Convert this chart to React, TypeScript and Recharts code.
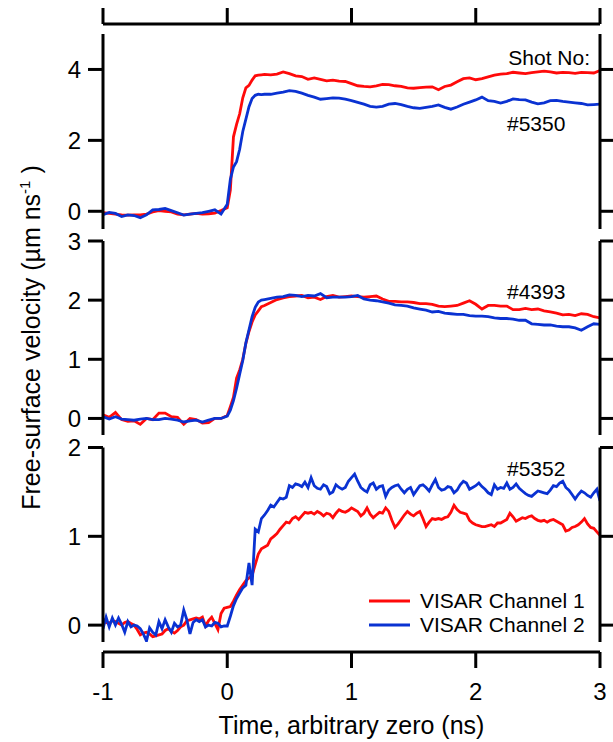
import { LineChart, Line, XAxis, YAxis, Legend } from "recharts"

const W = 613
const H = 742
const RED = "#ff0a0a"
const BLUE = "#0a32d2"
const FONT = '"Liberation Sans", Arial, sans-serif'

// time base for the two upper shots (ns), denser through the shock rise
const TIME_AB = [
  -1, -0.95, -0.9, -0.85, -0.8, -0.75, -0.7, -0.65, -0.6, -0.55,
  -0.5, -0.45, -0.4, -0.35, -0.3, -0.25, -0.2, -0.15, -0.1, -0.05,
  0, 0.025, 0.05, 0.075, 0.1, 0.125, 0.15, 0.175, 0.2, 0.225,
  0.25, 0.275, 0.3, 0.35, 0.4, 0.45, 0.5, 0.55, 0.6, 0.65,
  0.7, 0.75, 0.8, 0.85, 0.9, 0.95, 1, 1.05, 1.1, 1.15,
  1.2, 1.25, 1.3, 1.35, 1.4, 1.45, 1.5, 1.55, 1.6, 1.65,
  1.7, 1.75, 1.8, 1.85, 1.9, 1.95, 2, 2.05, 2.1, 2.15,
  2.2, 2.25, 2.3, 2.35, 2.4, 2.45, 2.5, 2.55, 2.6, 2.65,
  2.7, 2.75, 2.8, 2.85, 2.9, 2.95, 3,
]

// shot #5350
const S5350_CH1 = [
  -0.04, -0.06, -0.08, -0.1, -0.11, -0.1, -0.1, -0.08, -0.02, 0.02,
  0.0, -0.02, -0.08, -0.1, -0.08, -0.06, -0.08, -0.07, -0.05, 0.02,
  0.1, 0.6, 2.1, 2.45, 2.75, 3.2, 3.48, 3.55, 3.7, 3.82,
  3.84, 3.85, 3.86, 3.85, 3.87, 3.93, 3.88, 3.82, 3.8, 3.72,
  3.76, 3.72, 3.68, 3.7, 3.67, 3.66, 3.6, 3.54, 3.52, 3.51,
  3.54, 3.58, 3.57, 3.54, 3.52, 3.48, 3.47, 3.49, 3.5, 3.51,
  3.43, 3.52, 3.56, 3.65, 3.74, 3.76, 3.71, 3.74, 3.79, 3.84,
  3.87, 3.88, 3.92, 3.9, 3.88, 3.91, 3.93, 3.95, 3.93, 3.9,
  3.92, 3.91, 3.89, 3.92, 3.91, 3.9, 3.97,
]
const S5350_CH2 = [
  -0.1, -0.03, -0.06, -0.15, -0.1, -0.12, -0.18, -0.1, 0.04, 0.05,
  0.08, 0.02, -0.04, -0.11, -0.08, -0.06, -0.04, 0.0, 0.04, -0.08,
  0.2, 0.9, 1.25, 1.4, 1.75, 2.25, 2.6, 2.95, 3.18, 3.27,
  3.3, 3.29, 3.3, 3.3, 3.33, 3.36, 3.4, 3.38, 3.33, 3.27,
  3.22, 3.16, 3.18, 3.2, 3.19, 3.16, 3.12, 3.07, 3.02, 2.96,
  2.94, 2.96, 3.02, 3.04, 3.01, 2.96, 2.92, 2.9, 2.93, 2.96,
  3.0, 2.93, 2.88, 2.94, 3.02, 3.08, 3.14, 3.22, 3.12, 3.1,
  3.05, 3.1, 3.17, 3.15, 3.14, 3.08, 3.03, 3.06, 3.12, 3.13,
  3.1, 3.08, 3.06, 3.04, 3.0, 3.01, 3.02,
]

// shot #4393
const S4393_CH1 = [
  0.06, 0.02, 0.1, -0.02, -0.05, -0.04, -0.1, 0.0, -0.02, 0.09,
  0.09, 0.03, 0.02, -0.1, 0.0, -0.02, -0.08, -0.07, 0.0, 0.0,
  0.05, 0.2, 0.36, 0.68, 0.82, 1.0, 1.27, 1.47, 1.63, 1.75,
  1.82, 1.89, 1.91, 1.96, 2.01, 2.04, 2.06, 2.07, 2.08, 2.04,
  2.05, 2.01, 2.06, 2.08, 2.05, 2.06, 2.07, 2.06, 2.05, 2.06,
  2.07, 2.02, 1.98, 1.98, 1.97, 1.97, 1.96, 1.94, 1.94, 1.93,
  1.9, 1.89, 1.9, 1.91, 1.95, 1.99, 1.93, 1.85, 1.91, 1.91,
  1.9, 1.9, 1.84, 1.84, 1.86, 1.84, 1.85, 1.82, 1.8, 1.78,
  1.75, 1.76, 1.74, 1.77, 1.76, 1.72, 1.7,
]
const S4393_CH2 = [
  0.03, -0.01, 0.03, -0.01, -0.02, -0.03, -0.01, 0.0, -0.02, -0.02,
  0.0, -0.01, -0.03, -0.06, -0.04, -0.03, -0.06, -0.03, 0.0, 0.0,
  0.04, 0.14, 0.3, 0.51, 0.75, 0.98, 1.28, 1.5, 1.72, 1.88,
  1.97, 2.0, 2.01, 2.03, 2.05, 2.06, 2.09, 2.08, 2.06, 2.08,
  2.07, 2.11, 2.04, 2.05, 2.05, 2.05, 2.06, 2.08, 2.02, 2.0,
  1.99, 1.97, 1.95, 1.92, 1.91, 1.9, 1.87, 1.85, 1.83, 1.8,
  1.81, 1.78, 1.77, 1.76, 1.76, 1.74, 1.73, 1.73, 1.72, 1.7,
  1.69, 1.69, 1.68, 1.66, 1.66, 1.6, 1.59, 1.58, 1.58, 1.56,
  1.55, 1.55, 1.53, 1.49, 1.55, 1.6, 1.59,
]

// shot #5352 is noisier, read on a finer 25 ps grid
const TIME_C = [
  -1, -0.975, -0.95, -0.925, -0.9, -0.875, -0.85, -0.825, -0.8, -0.775,
  -0.75, -0.725, -0.7, -0.675, -0.65, -0.625, -0.6, -0.575, -0.55, -0.525,
  -0.5, -0.475, -0.45, -0.425, -0.4, -0.375, -0.35, -0.325, -0.3, -0.275,
  -0.25, -0.225, -0.2, -0.175, -0.15, -0.125, -0.1, -0.075, -0.05, -0.025,
  0, 0.025, 0.05, 0.075, 0.1, 0.125, 0.15, 0.175, 0.2, 0.225,
  0.25, 0.275, 0.3, 0.325, 0.35, 0.375, 0.4, 0.425, 0.45, 0.475,
  0.5, 0.525, 0.55, 0.575, 0.6, 0.625, 0.65, 0.675, 0.7, 0.725,
  0.75, 0.775, 0.8, 0.825, 0.85, 0.875, 0.9, 0.925, 0.95, 0.975,
  1, 1.025, 1.05, 1.075, 1.1, 1.125, 1.15, 1.175, 1.2, 1.225,
  1.25, 1.275, 1.3, 1.325, 1.35, 1.375, 1.4, 1.425, 1.45, 1.475,
  1.5, 1.525, 1.55, 1.575, 1.6, 1.625, 1.65, 1.675, 1.7, 1.725,
  1.75, 1.775, 1.8, 1.825, 1.85, 1.875, 1.9, 1.925, 1.95, 1.975,
  2, 2.025, 2.05, 2.075, 2.1, 2.125, 2.15, 2.175, 2.2, 2.225,
  2.25, 2.275, 2.3, 2.325, 2.35, 2.375, 2.4, 2.425, 2.45, 2.475,
  2.5, 2.525, 2.55, 2.575, 2.6, 2.625, 2.65, 2.675, 2.7, 2.725,
  2.75, 2.775, 2.8, 2.825, 2.85, 2.875, 2.9, 2.925, 2.95, 2.975,
  3,
]
const S5352_CH1 = [
  0.07, 0.03, 0.02, 0.05, 0.04, 0.02, 0.0, 0.03, 0.04, 0.02,
  0.0, -0.05, -0.11, -0.09, -0.08, -0.1, -0.13, -0.12, -0.11, -0.1,
  -0.06, -0.04, -0.07, -0.09, -0.06, -0.02, 0.0, 0.05, 0.06, 0.07,
  0.08, 0.07, 0.09, -0.01, 0.05, 0.09, 0.02, -0.05, 0.13, 0.19,
  0.2, 0.21, 0.27, 0.34, 0.4, 0.45, 0.5, 0.53, 0.56, 0.68,
  0.8, 0.86, 0.88, 0.9, 0.97, 1.0, 1.03, 1.08, 1.12, 1.16,
  1.15, 1.2, 1.22, 1.19, 1.23, 1.27, 1.26, 1.27, 1.25, 1.28,
  1.26, 1.23, 1.26, 1.25, 1.21, 1.26, 1.3, 1.28, 1.27, 1.29,
  1.32, 1.3, 1.28, 1.23, 1.26, 1.32, 1.25, 1.21, 1.24, 1.27,
  1.26, 1.32, 1.28, 1.18, 1.1, 1.14, 1.19, 1.24, 1.28, 1.25,
  1.23, 1.26, 1.28, 1.2, 1.11, 1.16, 1.2, 1.19, 1.2, 1.19,
  1.21, 1.22, 1.27, 1.35, 1.3, 1.27, 1.26, 1.25, 1.18, 1.15,
  1.13, 1.12, 1.11, 1.11, 1.12, 1.13, 1.11, 1.15, 1.15, 1.17,
  1.19, 1.26, 1.22, 1.17, 1.19, 1.21, 1.2, 1.22, 1.23, 1.2,
  1.18, 1.17, 1.18, 1.16, 1.18, 1.19, 1.17, 1.15, 1.13, 1.06,
  1.07, 1.1, 1.11, 1.13, 1.16, 1.2, 1.14, 1.1, 1.09, 1.05,
  1.01,
]
const S5352_CH2 = [
  -0.04, 0.09, -0.02, 0.08, 0.0, 0.08, 0.01, -0.08, 0.04, -0.02,
  0.0, -0.01, -0.04, -0.1, -0.18, -0.03, -0.08, -0.11, 0.04, -0.04,
  0.06, -0.02, -0.08, 0.02, -0.02, 0.0, 0.17, 0.06, -0.1, 0.03,
  0.06, 0.04, 0.06, -0.02, 0.0, -0.01, 0.03, 0.02, -0.02, -0.01,
  -0.01, 0.1, 0.22, 0.3, 0.36, 0.42, 0.45, 0.7, 0.45, 1.08,
  1.05, 1.2, 1.24, 1.29, 1.35, 1.33, 1.38, 1.43, 1.42, 1.44,
  1.57, 1.55, 1.59, 1.58, 1.56, 1.61, 1.55, 1.66, 1.57, 1.54,
  1.53, 1.58, 1.56, 1.48, 1.5, 1.58, 1.55, 1.53, 1.55, 1.62,
  1.66, 1.7, 1.62, 1.55, 1.52, 1.5, 1.58, 1.6, 1.53, 1.56,
  1.57, 1.45, 1.52, 1.55, 1.57, 1.58, 1.53, 1.49, 1.53, 1.55,
  1.47, 1.52, 1.57, 1.58, 1.55, 1.51, 1.58, 1.64, 1.55, 1.52,
  1.53, 1.56, 1.55, 1.49, 1.52, 1.58, 1.62, 1.6, 1.53, 1.55,
  1.57, 1.6, 1.56, 1.53, 1.49, 1.47, 1.58, 1.53, 1.55, 1.54,
  1.6, 1.53, 1.55, 1.59, 1.54, 1.51, 1.48, 1.46, 1.45, 1.48,
  1.51, 1.5, 1.49, 1.48, 1.52, 1.57, 1.56, 1.6, 1.62, 1.55,
  1.52, 1.47, 1.42, 1.47, 1.51, 1.49, 1.46, 1.44, 1.49, 1.53,
  1.4,
]

const X_TICKS = [-1, 0, 1, 2, 3]

const AXIS = { stroke: "#000", strokeWidth: 3 }
const TICK = { fill: "#000", fontSize: 24 }
const LINE_W = 2.8

// tick marks without labels (mirror axes)
const noLabel = () => <g />

type Row = { t: number; ch1: number; ch2: number }

const rows = (time: number[], a: number[], b: number[]): Row[] =>
  time.map((t, i) => ({ t, ch1: a[i], ch2: b[i] }))

function LegendBox({ payload }: any) {
  return (
    <div style={{ fontSize: 21, lineHeight: "24px", color: "#000" }}>
      {(payload ?? []).map((p: any) => (
        <div key={p.value} style={{ display: "flex", alignItems: "center", height: 24 }}>
          <svg width={41} height={24} style={{ marginRight: 10 }}>
            <line x1={0} x2={41} y1={12} y2={12} stroke={p.color} strokeWidth={LINE_W} />
          </svg>
          <span>{p.value}</span>
        </div>
      ))}
    </div>
  )
}

function Panel({
  data, top, bottom, domain, ticks, legend,
}: {
  data: Row[]; top: number; bottom: number; domain: [number, number]; ticks: number[]; legend?: boolean
}) {
  return (
    <div style={{ position: "absolute", left: 0, top: 0 }}>
      <LineChart width={W} height={H} data={data} margin={{ top, bottom: H - bottom, left: 63, right: 0 }}>
        <XAxis dataKey="t" type="number" domain={[-1, 3]} allowDataOverflow hide />
        <YAxis
          yAxisId="l" type="number" domain={domain} ticks={ticks} interval={0} allowDataOverflow
          width={40} tickSize={15} tickMargin={7} axisLine={AXIS} tickLine={AXIS} tick={TICK}
        />
        <YAxis
          yAxisId="r" orientation="right" type="number" domain={domain} ticks={ticks} interval={0}
          allowDataOverflow width={13} tickSize={15} axisLine={AXIS} tickLine={AXIS} tick={noLabel}
        />
        <Line yAxisId="l" type="linear" dataKey="ch1" name="VISAR Channel 1" stroke={RED}
          strokeWidth={LINE_W} dot={false} isAnimationActive={false} />
        <Line yAxisId="r" type="linear" dataKey="ch2" name="VISAR Channel 2" stroke={BLUE}
          strokeWidth={LINE_W} dot={false} isAnimationActive={false} />
        {legend && (
          <Legend layout="vertical" align="center" verticalAlign="middle"
            content={<LegendBox />} wrapperStyle={{ left: 369, top: 589, width: 240 }} />
        )}
      </LineChart>
    </div>
  )
}

function TimeAxis({ data, side }: { data: Row[]; side: "top" | "bottom" }) {
  const margin = side === "top"
    ? { top: 8, bottom: H - 60, left: 103, right: 13 }
    : { top: 600, bottom: 0, left: 103, right: 13 }
  return (
    <div style={{ position: "absolute", left: 0, top: 0 }}>
      <LineChart width={W} height={H} data={data} margin={margin}>
        <XAxis
          dataKey="t" type="number" domain={[-1, 3]} allowDataOverflow ticks={X_TICKS} interval={0}
          orientation={side} height={side === "top" ? 16 : 90} tickSize={16} tickMargin={15}
          axisLine={AXIS} tickLine={AXIS} tick={side === "top" ? noLabel : TICK}
        />
        <YAxis hide />
      </LineChart>
    </div>
  )
}

export default function App() {
  const p1 = rows(TIME_AB, S5350_CH1, S5350_CH2)
  const p2 = rows(TIME_AB, S4393_CH1, S4393_CH2)
  const p3 = rows(TIME_C, S5352_CH1, S5352_CH2)
  return (
    <div style={{ position: "absolute", left: 0, top: 0, width: W, height: H, background: "#fff", fontFamily: FONT }}>
      <TimeAxis data={p1} side="top" />
      <Panel data={p1} top={34} bottom={229} domain={[-0.5, 5]} ticks={[0, 2, 4]} />
      <Panel data={p2} top={241} bottom={435} domain={[-0.28, 3]} ticks={[0, 1, 2, 3]} />
      <Panel data={p3} top={447.5} bottom={642} domain={[-0.19, 2]} ticks={[0, 1, 2]} legend />
      <TimeAxis data={p3} side="bottom" />

      {/* titles and shot labels */}
      <svg width={W} height={H} style={{ position: "absolute", left: 0, top: 0, pointerEvents: "none" }}>
        <g fill="#000" fontFamily={FONT}>
          <text x={590} y={65} fontSize={21} textAnchor="end">Shot No:</text>
          <text x={507} y={131} fontSize={21}>#5350</text>
          <text x={507} y={299} fontSize={21}>#4393</text>
          <text x={507} y={476} fontSize={21}>#5352</text>
          <text x={351.5} y={734} fontSize={25} textAnchor="middle">Time, arbitrary zero (ns)</text>
          <text transform="translate(40,337.5) rotate(-90)" fontSize={25} textAnchor="middle">
            Free-surface velocity (µm ns<tspan dy={-10} fontSize={15}>-1</tspan>
            <tspan dy={10}> )</tspan>
          </text>
        </g>
      </svg>
    </div>
  )
}
